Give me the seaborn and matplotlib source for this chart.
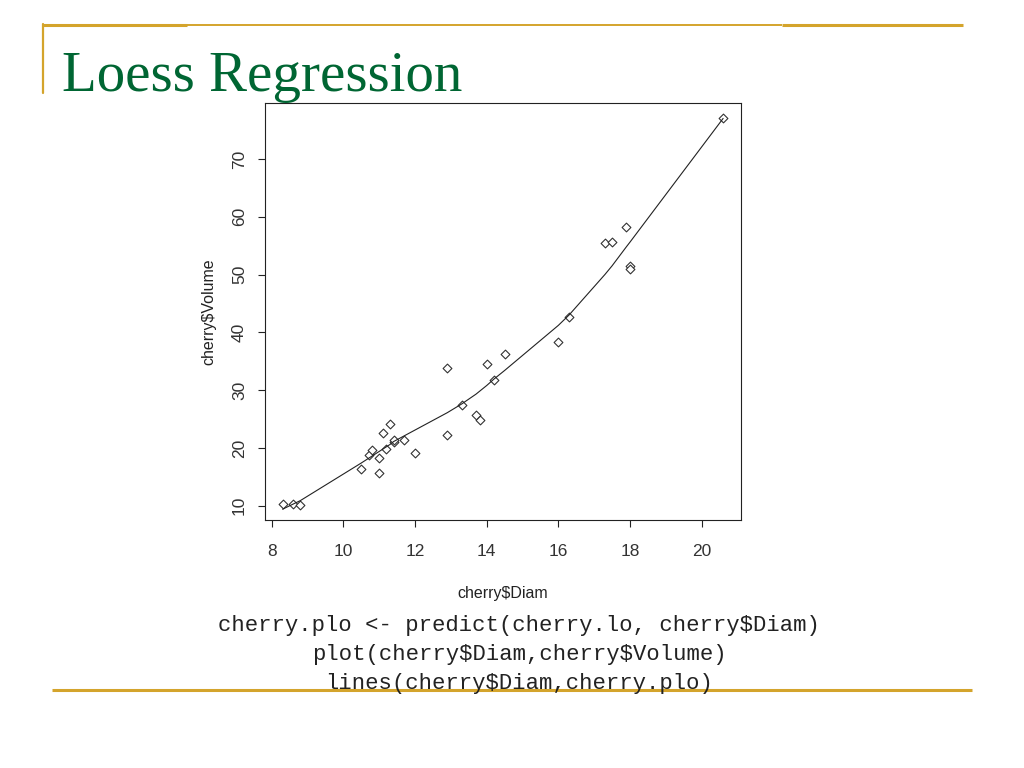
import matplotlib
matplotlib.use("Agg")
import matplotlib.pyplot as plt
import seaborn as sns
import pandas as pd
from matplotlib.lines import Line2D

# cherry tree data
diam = [8.3, 8.6, 8.8, 10.5, 10.7, 10.8, 11.0, 11.0, 11.1, 11.2, 11.3, 11.4,
        11.4, 11.7, 12.0, 12.9, 12.9, 13.3, 13.7, 13.8, 14.0, 14.2, 14.5,
        16.0, 16.3, 17.3, 17.5, 17.9, 18.0, 18.0, 20.6]
volume = [10.3, 10.3, 10.2, 16.4, 18.8, 19.7, 15.6, 18.2, 22.6, 19.9, 24.2,
          21.0, 21.4, 21.3, 19.1, 22.2, 33.8, 27.4, 25.7, 24.9, 34.5, 31.7,
          36.3, 38.3, 42.6, 55.4, 55.7, 58.3, 51.5, 51.0, 77.0]

# loess curve (one value per distinct diameter)
fit_diam = [8.3, 8.6, 8.8, 10.5, 10.7, 10.8, 11.0, 11.1, 11.2, 11.3, 11.4,
            11.7, 12.0, 12.9, 13.3, 13.7, 13.8, 14.0, 14.2, 14.5, 16.0, 16.3,
            17.3, 17.5, 17.9, 18.0, 20.6]
fit_volume = [9.4, 10.3, 10.9, 17.4, 18.2, 18.6, 19.4, 19.8, 20.2, 20.6, 21.1,
              22.1, 23.1, 26.1, 27.6, 29.3, 29.8, 30.8, 31.9, 33.4, 41.2, 43.0,
              50.0, 51.5, 54.8, 55.6, 77.0]

x_ticks = [8, 10, 12, 14, 16, 18, 20]
y_ticks = [10, 20, 30, 40, 50, 60, 70]

code_lines = [r"cherry.plo <- predict(cherry.lo, cherry\$Diam)",
              r"plot(cherry\$Diam,cherry\$Volume)",
              r"lines(cherry\$Diam,cherry.plo)"]

df = pd.DataFrame({"diam": diam, "volume": volume})
fit = pd.DataFrame({"diam": fit_diam, "volume": fit_volume})

sns.set_style("white")
plt.rcParams["font.family"] = ["Liberation Sans", "DejaVu Sans"]

fig = plt.figure(figsize=(10.24, 7.68), dpi=100)
ax = fig.add_axes([0.2588, 0.3229, 0.4645, 0.5430])

sns.scatterplot(data=df, x="diam", y="volume", ax=ax, marker="D", s=20,
                facecolor="white", edgecolor="#333333", linewidth=0.8)
sns.lineplot(data=fit, x="diam", y="volume", ax=ax, color="#222222",
             linewidth=0.8, sort=False)

ax.set_xlim(7.81, 21.09)
ax.set_ylim(7.53, 79.67)
ax.set_xticks(x_ticks)
ax.set_yticks(y_ticks)
ax.tick_params(axis="both", direction="out", length=5, width=0.8,
               colors="#222222", labelcolor="#333333", labelsize=12.5)
ax.tick_params(axis="x", pad=12, bottom=True)
ax.tick_params(axis="y", pad=8, left=True)
for lab in ax.get_yticklabels():
    lab.set_rotation(90)
    lab.set_va("center")
for sp in ax.spines.values():
    sp.set_color("#222222")
    sp.set_linewidth(0.8)
ax.set_xlabel(r"cherry\$Diam", fontsize=11.5, color="#222222", labelpad=20)
ax.set_ylabel(r"cherry\$Volume", fontsize=11.5, color="#222222", labelpad=11)

# slide decoration
gold = "#D4A42C"
def hline(x0, x1, y, lw):
    fig.add_artist(Line2D([x0 / 1024, x1 / 1024], [1 - y / 768, 1 - y / 768],
                          color=gold, linewidth=lw, solid_capstyle="butt"))

hline(43, 187, 25, 2.2)
hline(187, 782, 25, 1.4)
hline(782, 963, 25, 2.2)
fig.add_artist(Line2D([43 / 1024, 43 / 1024], [1 - 24 / 768, 1 - 93 / 768],
                      color=gold, linewidth=1.6))
hline(52, 972, 690, 2.2)

fig.text(62 / 1024, 1 - 91 / 768, "Loess Regression", fontsize=41,
         family=["Liberation Serif", "DejaVu Serif"], color="#006633",
         ha="left", va="baseline")

for i, line in enumerate(code_lines):
    fig.text(519 / 1024, 1 - (625 + 29.5 * i) / 768, line, fontsize=16,
             family=["Liberation Mono", "DejaVu Sans Mono"], color="#222222",
             ha="center", va="center")

fig.savefig("out.png", dpi=100)
